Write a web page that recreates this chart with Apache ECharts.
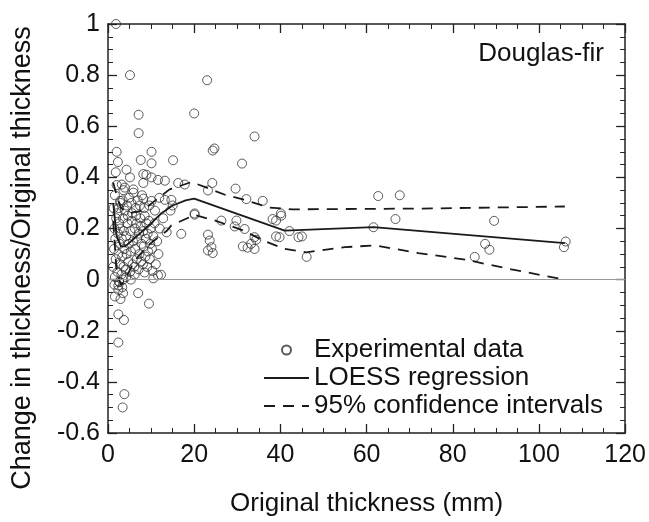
<!DOCTYPE html>
<html>
<head>
<meta charset="utf-8">
<script src="https://cdn.jsdelivr.net/npm/echarts@6/dist/echarts.min.js"></script>
<style>html,body{margin:0;padding:0;background:#fff}#c{width:649px;height:522px}</style>
</head>
<body>
<div id="c"></div>
<script>
var experimentalData = [
  [1.85,1.0],[5.1,0.80],[23.0,0.78],[7.1,0.645],[20.0,0.65],[7.1,0.573],[34,0.56],[24.7,0.513],[24.3,0.505],
  [2.0,0.50],[10.1,0.50],[2.3,0.46],[7.6,0.468],[10.1,0.455],[15.1,0.467],[31.1,0.454],[4.3,0.43],[5.1,0.40],
  [8.2,0.413],[8.9,0.41],[10.1,0.40],[11.6,0.39],[13.2,0.387],[3.2,0.372],[8.2,0.378],[16.3,0.378],[17.8,0.372],
  [3.9,0.36],[5.9,0.353],[24.2,0.378],[23.2,0.349],[29.6,0.356],[32.1,0.315],[35.9,0.308],[2.8,0.308],[8.2,0.317],
  [10.1,0.308],[13.2,0.312],[14.7,0.312],[40.1,0.259],[20.1,0.259],
  [20.1,0.254],[26.3,0.231],[29.8,0.231],[29.4,0.208],[31.7,0.198],[34,0.166],[34.4,0.156],[38.2,0.237],[39,0.231],
  [40.2,0.25],[39,0.169],[42.1,0.19],[44.2,0.166],[17,0.179],[13.6,0.185],[23.2,0.176],[23.6,0.153],[24,0.127],
  [23.2,0.114],[24.3,0.104],[31.3,0.13],[32.4,0.125],[34,0.12],[33.2,0.14],[39.8,0.166],[45,0.169],[46.1,0.089],
  [61.6,0.205],[62.7,0.327],[67.7,0.33],[66.7,0.237],[89.6,0.23],[87.5,0.14],[88.5,0.117],[85.1,0.089],[106.2,0.149],[105.8,0.127],
  [7.0,-0.053],[9.5,-0.094],[2.4,-0.136],[3.7,-0.158],[2.4,-0.246],[3.8,-0.448],[3.4,-0.5],
  [1.6,-0.066],[2.9,-0.076],[3.5,-0.053],[2.4,-0.023],[2.6,-0.008],[10.5,0.005],[11.6,0.017],[12.3,0.019],[8.5,0.028],[10.3,0.034],
  [1.2,0.05],[1.4,0.12],[1.5,0.2],[1.3,0.28],[1.6,0.33],[1.8,0.08],[1.7,0.16],[1.9,0.24],[1.5,-0.02],[1.6,0.01],[2.0,0.37],[1.8,0.42],
  [2.2,0.03],[2.4,0.1],[2.3,0.18],[2.6,0.22],[2.5,0.28],[2.8,0.06],[2.7,0.14],[2.9,0.3],[2.4,-0.04],[2.6,-0.01],[2.8,0.2],[2.2,0.26],
  [3.1,0.02],[3.3,0.09],[3.2,0.16],[3.5,0.24],[3.4,0.31],[3.6,0.05],[3.8,0.12],[3.7,0.19],[3.9,0.27],[3.3,-0.03],[3.6,0.35],[3.5,0.0],
  [4.1,0.04],[4.3,0.1],[4.2,0.17],[4.5,0.22],[4.4,0.29],[4.7,0.07],[4.8,0.14],[4.6,0.25],[4.9,0.32],[4.2,0.01],
  [5.1,0.03],[5.3,0.11],[5.2,0.19],[5.5,0.23],[5.4,0.3],[5.7,0.06],[5.8,0.15],[5.6,0.26],[5.9,0.34],[5.3,0.0],
  [6.1,0.05],[6.3,0.12],[6.2,0.2],[6.5,0.25],[6.4,0.28],[6.7,0.08],[6.8,0.16],[6.6,0.22],[6.9,0.31],[6.2,0.02],
  [7.1,0.04],[7.3,0.1],[7.2,0.18],[7.5,0.24],[7.4,0.29],[7.7,0.07],[7.8,0.14],[7.6,0.21],[7.9,0.33],
  [8.1,0.06],[8.3,0.13],[8.2,0.19],[8.5,0.25],[8.4,0.28],[8.7,0.09],[8.8,0.16],[8.9,0.22],
  [9.1,0.05],[9.3,0.11],[9.2,0.18],[9.5,0.23],[9.6,0.29],[9.8,0.14],[9.9,0.2],[9.7,0.08],
  [10.2,0.12],[10.5,0.17],[10.8,0.22],[11.1,0.06],[11.4,0.15],[10.9,0.27],[11.7,0.1],[12.0,0.2],
  [14.5,0.27],[15.0,0.29],[12.8,0.24],[11.9,0.32]
];
var loessCurve = [[1.2,0.3],[2,0.17],[3,0.13],[4,0.13],[6,0.16],[8,0.19],[10,0.22],[12.4,0.26],[15,0.29],[18,0.31],[20,0.317],[30,0.257],[41,0.192],[61.6,0.205],[106,0.143]];
var upperCI = [[1.2,0.38],[2,0.33],[3,0.28],[5,0.26],[8,0.27],[11,0.31],[14.3,0.353],[19.4,0.382],[27,0.333],[31.3,0.314],[37.5,0.282],[42.8,0.275],[72.8,0.278],[106,0.286]];
var lowerCI = [[1.2,0.23],[2,0.03],[3,-0.02],[4,0.0],[6,0.07],[9,0.13],[12,0.17],[13.6,0.19],[14.7,0.212],[20.1,0.253],[24.7,0.232],[31.3,0.193],[35.9,0.154],[41,0.12],[46,0.107],[55,0.127],[62,0.134],[72,0.104],[83,0.078],[93.6,0.04],[104.5,0.005]];
var legendNames = ['Experimental data','LOESS regression','95% confidence intervals'];
var panelLabel = 'Douglas-fir';
var xTitle = 'Original thickness (mm)';
var yTitle = 'Change in thickness/Original thickness';

var FONT = "'Liberation Sans', Arial, Helvetica, sans-serif";
var chart = echarts.init(document.getElementById('c'), null, {renderer:'canvas'});
var axisLine = {show:true, onZero:false, lineStyle:{color:'#222', width:1.5}};
function axisBase(extra){
  return Object.assign({
    axisLine: axisLine,
    axisTick: {show:true, inside:true, length:9, lineStyle:{color:'#222', width:1.3}},
    minorTick: {show:true, splitNumber:4, length:5, lineStyle:{color:'#222', width:1}},
    splitLine: {show:false},
    axisLabel: {color:'#111', fontSize:25, fontFamily:FONT}
  }, extra);
}
var noSym = {color:'rgba(0,0,0,0)', borderWidth:0};
chart.setOption({
  animation:false,
  backgroundColor:'#fff',
  title:{text:panelLabel, right:40, top:36, textStyle:{fontSize:26, fontWeight:'normal', color:'#111', fontFamily:FONT}},
  grid:{left:108, right:22, top:24, bottom:84},
  graphic:[{type:'text', x:23, y:258, rotation:Math.PI/2,
    style:{text:yTitle, font:'27px ' + FONT, fill:'#111', textAlign:'center', textVerticalAlign:'middle'}}],
  legend:{
    orient:'vertical', left:258, top:332, itemWidth:45, itemHeight:9, itemGap:2,
    textStyle:{fontSize:26, color:'#111', fontFamily:FONT},
    data:[
      {name:legendNames[0], icon:'circle'},
      {name:legendNames[1]},
      {name:legendNames[2]}
    ]
  },
  xAxis:[
    axisBase({type:'value', min:0, max:120, interval:20, position:'bottom',
      name:xTitle, nameLocation:'middle', nameGap:58,
      nameTextStyle:{fontSize:26, color:'#111', fontFamily:FONT},
      axisLabel:{color:'#111', fontSize:25, fontFamily:FONT, margin:10}}),
    axisBase({type:'value', min:0, max:120, interval:20, position:'top', axisLabel:{show:false}})
  ],
  yAxis:[
    axisBase({type:'value', min:-0.6, max:1, interval:0.2, position:'left',
      axisLabel:{color:'#111', fontSize:25, fontFamily:FONT, margin:8}}),
    axisBase({type:'value', min:-0.6, max:1, interval:0.2, position:'right', axisLabel:{show:false}})
  ],
  series:[
    {name:legendNames[0], type:'scatter', data:experimentalData, symbol:'circle', symbolSize:9,
     itemStyle:{color:'rgba(255,255,255,0)', borderColor:'#333', borderWidth:1},
     markLine:{silent:true, symbol:'none', label:{show:false},
       lineStyle:{color:'#999', width:1.2, type:'solid'}, data:[{yAxis:0}]}},
    {name:legendNames[1], type:'line', data:loessCurve, showSymbol:false, symbol:'none',
     itemStyle:noSym, lineStyle:{color:'#1a1a1a', width:1.8}, z:3},
    {name:legendNames[2], type:'line', data:upperCI, showSymbol:false, symbol:'none',
     itemStyle:noSym, lineStyle:{color:'#1a1a1a', width:1.8, type:[11,8]}, z:3},
    {name:legendNames[2], type:'line', data:lowerCI, showSymbol:false, symbol:'none',
     itemStyle:noSym, lineStyle:{color:'#1a1a1a', width:1.8, type:[11,8]}, z:3}
  ]
});
</script>
</body>
</html>
